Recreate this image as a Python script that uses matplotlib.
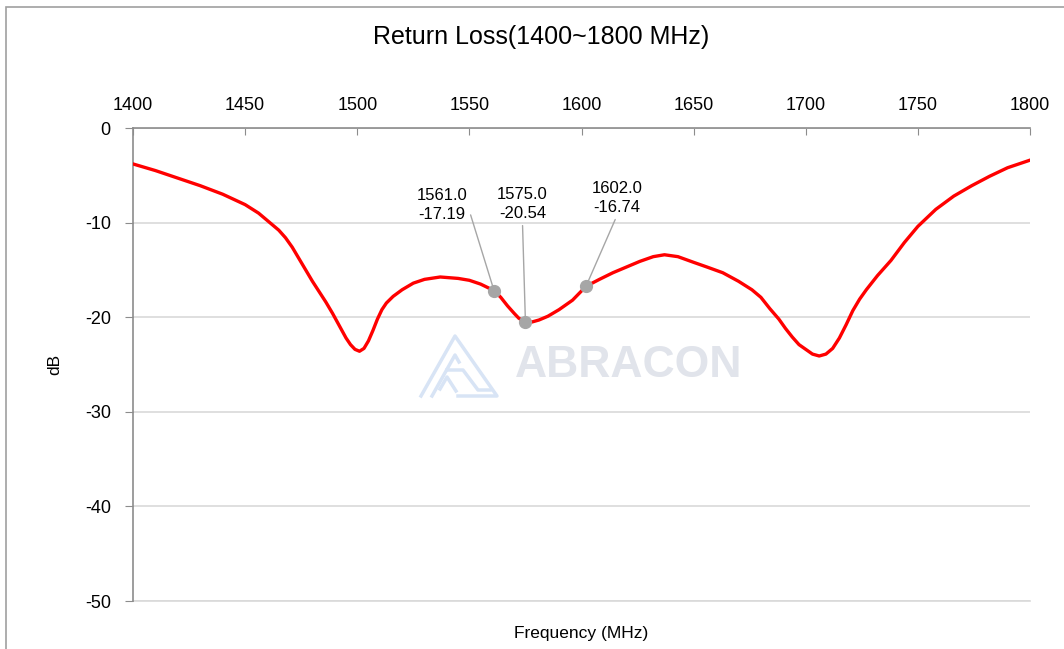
"""
Return loss chart, 1400-1800 MHz, with three marker readouts.
"""

import matplotlib

matplotlib.use("Agg")
import matplotlib.pyplot as plt
from matplotlib.patches import Rectangle
from matplotlib.lines import Line2D

plt.rcParams["font.family"] = ["Liberation Sans", "DejaVu Sans"]
plt.rcParams["axes.unicode_minus"] = False

# =============================================================================
# DATA
# =============================================================================

freq_mhz = [
    1400, 1410, 1420, 1430, 1440, 1450, 1456, 1461, 1465, 1468,
    1471, 1474, 1477, 1480, 1483, 1486, 1489, 1492, 1495, 1497,
    1499, 1501, 1503, 1505, 1507, 1509, 1511, 1513, 1516, 1520,
    1525, 1530, 1537, 1545, 1550, 1555, 1561, 1564, 1567, 1570,
    1572, 1575, 1578, 1581, 1585, 1590, 1596, 1602, 1608, 1614,
    1620, 1626, 1632, 1637, 1643, 1650, 1656, 1663, 1670, 1676,
    1680, 1684, 1688, 1691, 1694, 1697, 1700, 1703, 1706, 1709,
    1712, 1715, 1718, 1721, 1724, 1727, 1732, 1738, 1744, 1750,
    1758, 1766, 1774, 1782, 1790, 1800,
]
return_loss_db = [
    -3.8, -4.5, -5.3, -6.1, -7.0, -8.1, -9.0, -10.0, -10.8, -11.6,
    -12.6, -13.8, -15.0, -16.2, -17.3, -18.4, -19.6, -20.9, -22.2, -22.9,
    -23.4, -23.6, -23.3, -22.5, -21.4, -20.2, -19.2, -18.5, -17.8, -17.1,
    -16.4, -16.0, -15.75, -15.9, -16.1, -16.5, -17.19, -17.9, -18.8, -19.6,
    -20.1, -20.54, -20.5, -20.3, -19.9, -19.2, -18.2, -16.74, -16.0, -15.3,
    -14.7, -14.1, -13.6, -13.4, -13.6, -14.2, -14.7, -15.3, -16.2, -17.1,
    -17.9, -19.1, -20.2, -21.2, -22.1, -22.9, -23.4, -23.9, -24.1, -23.9,
    -23.3, -22.2, -20.8, -19.3, -18.1, -17.1, -15.6, -14.0, -12.1, -10.4,
    -8.6, -7.2, -6.1, -5.1, -4.2, -3.4,
]

marker_freqs = [1561.0, 1575.0, 1602.0]
marker_values = [-17.19, -20.54, -16.74]
# label offsets in pixels from each marker, and where the leader leaves the label
label_offsets = [(-52, 86), (-3, 118), (31, 88)]
label_relpos = [(1.0, 0.5), (0.5, 0.0), (0.5, 0.0)]

x_ticks = [1400, 1450, 1500, 1550, 1600, 1650, 1700, 1750, 1800]
y_ticks = [0, -10, -20, -30, -40, -50]

# =============================================================================
# PLOT
# =============================================================================

W, H = 1064, 649
fig = plt.figure(figsize=(W / 100, H / 100), dpi=100)
ax = fig.add_axes([133 / W, 1 - 601 / H, (1030 - 133) / W, (601 - 128) / H])
ax.patch.set_alpha(0)

axis_grey = "#8c8c8c"
ax.plot(freq_mhz, return_loss_db, color="#ff0000", linewidth=2.4, zorder=3,
        solid_joinstyle="round")

ax.set_xlim(1400, 1800)
ax.set_ylim(-50, 0)
ax.set_xticks(x_ticks)
ax.set_yticks(y_ticks)

ax.xaxis.tick_top()
ax.xaxis.set_label_position("bottom")
ax.tick_params(axis="x", direction="in", length=5, color=axis_grey,
               labelsize=13, pad=10)
ax.tick_params(axis="y", direction="out", length=6, color=axis_grey,
               labelsize=13, pad=10)

for side in ["right", "bottom"]:
    ax.spines[side].set_visible(False)
for side in ["top", "left"]:
    ax.spines[side].set_color(axis_grey)
    ax.spines[side].set_linewidth(1.2)

ax.yaxis.grid(True, color="#d9d9d9", linewidth=1.2)
ax.set_axisbelow(True)
ax.axhline(-50, color="#d9d9d9", linewidth=1.2, zorder=0, clip_on=False)

ax.set_xlabel("Frequency (MHz)", fontsize=12.5, labelpad=18)
ax.set_ylabel("dB", fontsize=12.5, labelpad=16)
fig.text(541 / W, 1 - 37 / H, "Return Loss(1400~1800 MHz)",
         ha="center", va="center", fontsize=18)

# marker readouts
for f, v, off, rp in zip(marker_freqs, marker_values, label_offsets,
                         label_relpos):
    ax.plot(f, v, "o", color="#a6a6a6", markersize=8.5, zorder=4)
    ax.annotate(
        f"{f:.1f}\n{v:.2f}",
        xy=(f, v),
        xytext=off,
        textcoords="offset pixels",
        ha="center",
        va="center",
        fontsize=12,
        linespacing=1.35,
        arrowprops=dict(arrowstyle="-", color="#a6a6a6", linewidth=1,
                        shrinkA=1, shrinkB=0, relpos=rp),
        zorder=5,
    )

# watermark
fig.text(629 / W, 1 - 366 / H, "ABRACON", ha="center", va="center",
         fontsize=32, fontweight="bold", color="#e1e4eb", zorder=0)
logo_blue = "#d8e4f5"
logo_lines = [
    ([421, 455, 497, 458], [396, 336, 396, 396]),
    ([432, 455, 459], [396, 355, 362]),
    ([447, 463, 478, 490], [370, 370, 390, 390]),
    ([440, 447, 456], [389, 377, 391]),
]
for xs, ys in logo_lines:
    fig.add_artist(Line2D([x / W for x in xs], [1 - y / H for y in ys],
                          transform=fig.transFigure, color=logo_blue,
                          linewidth=2.5, zorder=0))

# outer chart frame (runs off the right and bottom edges)
fig.add_artist(Rectangle((6 / W, -0.05), 1.0, 1 - 7 / H + 0.05,
                         transform=fig.transFigure, fill=False,
                         edgecolor="#a0a0a0", linewidth=1.2))

fig.savefig("out.png", dpi=100)
